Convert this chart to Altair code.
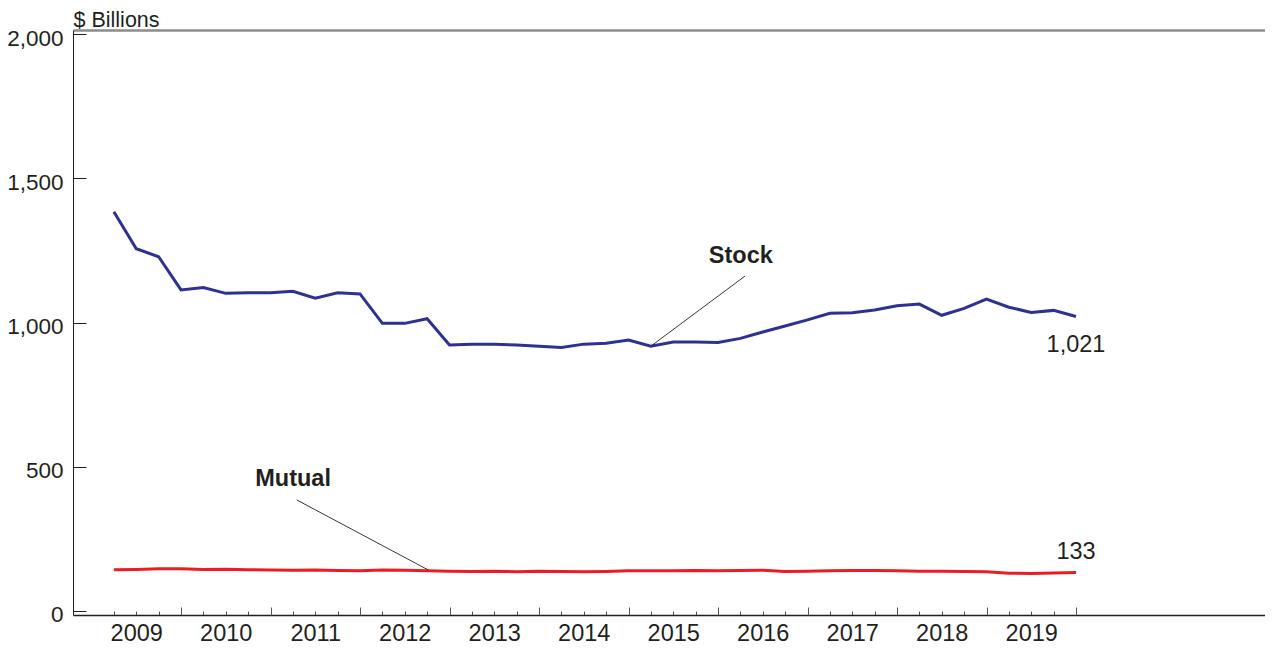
import altair as alt
import pandas as pd

# ---------------- data ----------------
years = list(range(2009, 2020))
quarter_labels = [f"{y}Q{q}" for y in years for q in range(1, 5)]

stock = [1384, 1256, 1228, 1113,
         1121, 1101, 1103, 1103,
         1108, 1084, 1103, 1099,
         997, 997, 1013, 922,
         925, 925, 922, 918,
         913, 925, 928, 939,
         918, 932, 932, 931,
         945, 967, 988, 1009,
         1032, 1034, 1043, 1058,
         1064, 1025, 1049, 1081,
         1053, 1035, 1042, 1021]

mutual = [143, 144, 146, 146,
          144, 145, 143, 142,
          141, 142, 140, 139,
          142, 141, 139, 138,
          137, 138, 136, 138,
          137, 136, 137, 139,
          139, 139, 140, 139,
          140, 141, 137, 138,
          139, 140, 140, 139,
          138, 138, 137, 136,
          131, 130, 132, 133]

y_tick_values = [0, 500, 1000, 1500, 2000]

# annotation texts (data coordinates: fractional year, $ billions)
bold_text = ["Stock", "Mutual"]
bold_x = [2016.255, 2011.252]
bold_y = [1207, 434]

end_text = ["1,021", "133"]
end_x = [2020.0, 2020.0]
end_y = [899, 179]

leader_x = [2016.302, 2011.293]
leader_y = [1161, 385]
leader_x2 = [2015.25, 2012.763]
leader_y2 = [918, 142]

# ---------------- tables ----------------
def qpos(label):
    y, q = label.split("Q")
    return int(y) + int(q) / 4.0

t_vals = [qpos(l) for l in quarter_labels]
df_stock = pd.DataFrame({"t": t_vals, "v": stock, "q": quarter_labels})
df_mutual = pd.DataFrame({"t": t_vals, "v": mutual, "q": quarter_labels})
df_bold = pd.DataFrame({"x": bold_x, "y": bold_y, "text": bold_text})
df_end = pd.DataFrame({"x": end_x, "y": end_y, "text": end_text})
df_lead = pd.DataFrame({"x": leader_x, "y": leader_y, "x2": leader_x2, "y2": leader_y2})

FONT = "Liberation Sans"
FS = 23.5
TXT = "#231f20"

x_scale = alt.Scale(domain=[2008.7933, 2022.1117], nice=False, zero=False)
y_scale = alt.Scale(domain=[-14, 2014], nice=False, zero=False)

y_axis = alt.Axis(
    values=y_tick_values, format=",d", grid=False,
    domain=True, domainColor=TXT, domainWidth=1,
    ticks=True, tickSize={"expr": "-13"}, tickColor=TXT, tickWidth=1,
    labelFont=FONT, labelFontSize=22.5, labelColor=TXT,
    labelPadding=23, labelBaseline="middle", labelOffset=4,
    title="$ Billions", titleFont=FONT, titleFontSize=21.5, titleFontWeight="normal",
    titleColor=TXT, titleAngle=0, titleAlign="left", titleBaseline="alphabetic",
    titleX=0, titleY=-4,
)

x_axis_minor = alt.Axis(
    orient="bottom", values=t_vals, grid=False,
    domain=True, domainColor=TXT, domainWidth=1.5,
    ticks=True, tickSize={"expr": "-4"}, tickColor="#555555", tickWidth=1,
    labelExpr="datum.value % 1 == 0.5 ? toString(floor(datum.value)) : ''",
    labelFont=FONT, labelFontSize=FS, labelColor=TXT,
    labelPadding=29, labelBaseline="alphabetic", labelOverlap=False, labelFlush=False,
    title=None,
)

x_axis_major = alt.Axis(
    orient="bottom", values=list(range(2010, 2021)), grid=False,
    domain=False, ticks=True, tickSize={"expr": "-8"}, tickColor="#555555", tickWidth=1,
    labels=False, title=None,
)

x_axis_top = alt.Axis(
    orient="top", grid=False, domain=True, domainColor="#8c8c8c", domainWidth=2.5,
    ticks=False, labels=False, title=None,
)

stock_line = alt.Chart(df_stock).mark_line(color="#2E3192", strokeWidth=3).encode(
    x=alt.X("t:Q", scale=x_scale, axis=x_axis_minor),
    y=alt.Y("v:Q", scale=y_scale, axis=y_axis),
)

mutual_line = alt.Chart(df_mutual).mark_line(color="#ED1C24", strokeWidth=3).encode(
    x=alt.X("t:Q", scale=x_scale, axis=x_axis_major),
    y=alt.Y("v:Q", scale=y_scale, axis=y_axis),
)

leaders = alt.Chart(df_lead).mark_rule(color=TXT, strokeWidth=0.9).encode(
    x=alt.X("x:Q", scale=x_scale, axis=x_axis_top),
    y=alt.Y("y:Q", scale=y_scale, axis=y_axis),
    x2="x2:Q",
    y2="y2:Q",
)

bold_labels = alt.Chart(df_bold).mark_text(
    font=FONT, fontSize=FS, fontWeight="bold", color=TXT, align="center", baseline="alphabetic"
).encode(
    x=alt.X("x:Q", scale=x_scale, axis=None),
    y=alt.Y("y:Q", scale=y_scale, axis=y_axis),
    text="text:N",
)

end_labels = alt.Chart(df_end).mark_text(
    font=FONT, fontSize=FS, color=TXT, align="center", baseline="alphabetic"
).encode(
    x=alt.X("x:Q", scale=x_scale, axis=None),
    y=alt.Y("y:Q", scale=y_scale, axis=y_axis),
    text="text:N",
)

chart = alt.layer(
    stock_line, mutual_line, leaders, bold_labels, end_labels
).resolve_axis(x="independent").properties(
    width=1192,
    height=585,
    autosize=alt.AutoSizeParams(type="none"),
    padding={"left": 65, "top": 22, "right": 0, "bottom": 34},
    background="white",
).configure_view(stroke=None)

chart.save("out.html", embed_options={"renderer": "svg", "actions": False})
